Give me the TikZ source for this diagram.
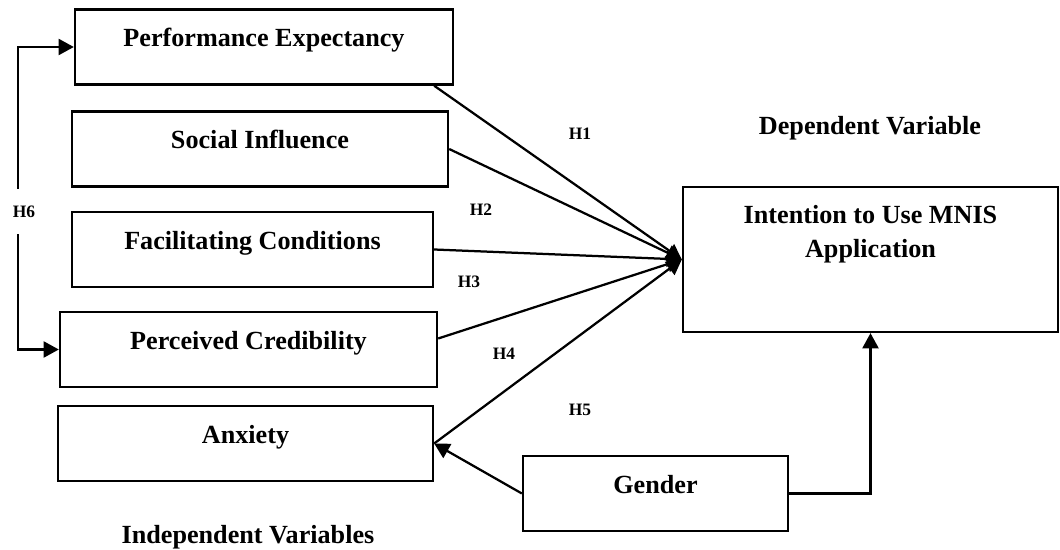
\documentclass[tikz,border=0pt]{standalone}
\usepackage{fontspec}
\setmainfont{Liberation Serif}
\usetikzlibrary{arrows.meta}

\begin{document}
\begin{tikzpicture}[x=0.025cm, y=-0.025cm, line width=1.6pt,
    font=\bfseries\fontsize{18.6}{24.2}\selectfont,
    caixa/.style={draw, rectangle, inner sep=0pt, minimum height=1.875cm},
    var/.style={caixa, text height=0.94cm, text depth=0.94cm},
    hip/.style={font=\bfseries\fontsize{12.4}{14}\selectfont, inner sep=0pt},
    seta/.style={-{Triangle[width=0.4cm, length=0.38cm]}}]
    \useasboundingbox (0,0) rectangle (1060,550);

    % Variaveis independentes
    \node[var, minimum width=9.45cm] (pe) at (264,47) {Performance Expectancy};
    \node[var, minimum width=9.4cm] (si) at (260,149) {Social Influence};
    \node[var, minimum width=9.025cm] (fc) at (252.5,249.5) {Facilitating Conditions};
    \node[var, minimum width=9.425cm] (pc) at (248.5,349.5) {Perceived Credibility};
    \node[var, minimum width=9.375cm] (anx) at (245.5,443.5) {Anxiety};
    \node[var, minimum width=6.625cm] (gender) at (655.5,493.5) {Gender};

    % Variavel dependente
    \node[caixa, minimum width=9.375cm, minimum height=3.625cm] (intention) at (870.5,259.5) {};
    \node[align=center] (intentiontext) at (870.5,234) {Intention to Use MNIS\\Application};

    % Titulos
    \node[anchor=base] (dependent) at (870,135) {Dependent Variable};
    \node[anchor=base] (independent) at (248,543) {Independent Variables};

    % Hipoteses
    \node[hip] (h1) at (580,134) {H1};
    \node[hip] (h2) at (481,210) {H2};
    \node[hip] (h3) at (469,282) {H3};
    \node[hip] (h4) at (504,354) {H4};
    \node[hip] (h5) at (580,410) {H5};
    \node[hip, minimum height=1.075cm] (h6) at (24,211.5) {H6};

    % Setas para a intencao
    \draw[seta] ([xshift=-0.5cm]pe.south east) -- (intention.west);
    \draw[seta] (si.east) -- (intention.west);
    \draw[seta] (fc.east) -- (intention.west);
    \draw[seta] ([yshift=0.275cm]pc.east) -- (intention.west);
    \draw[seta] (anx.east) -- (intention.west);

    % Setas do genero
    \draw[seta] (gender.west) -- (anx.east);
    \draw[seta] (gender.east) -| (intention.south);

    % Setas de H6
    \draw[seta] ([xshift=-0.15cm]h6.north) |- (pe.west);
    \draw[seta] ([xshift=-0.15cm]h6.south) |- (pc.west);
\end{tikzpicture}
\end{document}
